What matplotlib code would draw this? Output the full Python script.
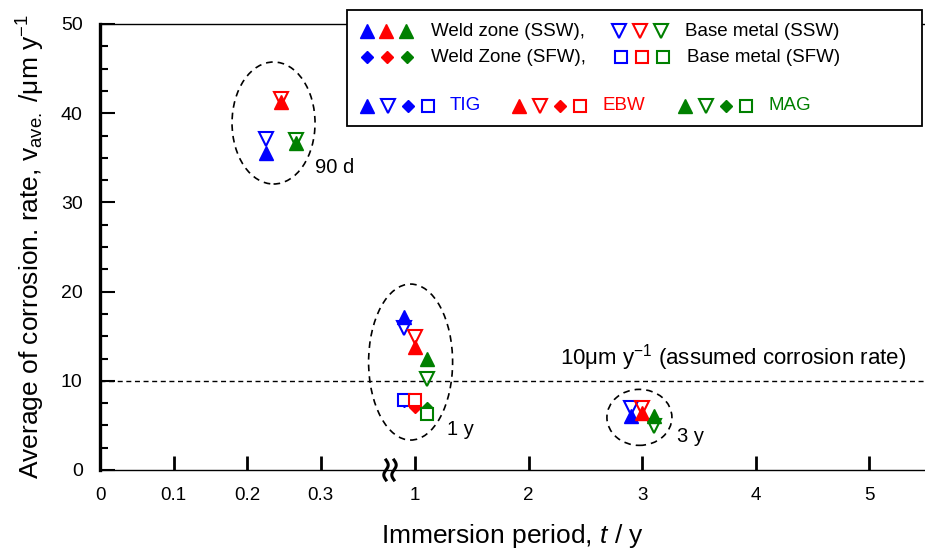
import numpy as np
import matplotlib
matplotlib.use('Agg')
import matplotlib.pyplot as plt
from matplotlib.patches import Ellipse, Rectangle
from matplotlib.transforms import Affine2D, ScaledTranslation
from matplotlib.lines import Line2D
from matplotlib.ticker import FixedLocator, NullLocator, MultipleLocator

plt.rcParams['font.family'] = ['Liberation Sans', 'DejaVu Sans']
plt.rcParams['mathtext.fontset'] = 'custom'
plt.rcParams['mathtext.rm'] = 'Liberation Sans'
plt.rcParams['mathtext.it'] = 'Liberation Sans:italic'
plt.rcParams['mathtext.bf'] = 'Liberation Sans:bold'

# ---------------- data ----------------
methods = ['TIG', 'EBW', 'MAG']
method_colors = ['#0000FF', '#FF0000', '#008000']

# immersion periods (slightly offset per method for visibility): 90 d, 1 y, 3 y
x_tig = [0.226, 0.9, 2.9]
x_ebw = [0.246, 1.0, 3.0]
x_mag = [0.267, 1.1, 3.1]

# Weld zone (SSW) - filled up triangles
weld_ssw_tig = [35.5, 17.1, 6.1]
weld_ssw_ebw = [41.3, 13.8, 6.4]
weld_ssw_mag = [36.7, 12.4, 6.0]

# Base metal (SSW) - open down triangles
base_ssw_tig = [37.1, 15.9, 6.9]
base_ssw_ebw = [41.6, 14.9, 7.0]
base_ssw_mag = [37.0, 10.2, 4.9]

# SFW only at 1 y
x_sfw = [0.9, 1.0, 1.1]
weld_sfw = [7.7, 7.1, 6.9]   # filled diamonds (TIG, EBW, MAG)
base_sfw = [7.85, 7.9, 6.3]  # open squares (TIG, EBW, MAG)

# groups (ellipses) and labels
group_labels = ['90 d', '1 y', '3 y']
group_cx = [0.236, 0.96, 2.975]
group_cy = [38.9, 12.1, 5.9]
label_x = [0.293, 1.28, 3.31]
label_y = [33.9, 4.5, 3.7]

assumed_rate = 10

xtick_vals = [0, 0.1, 0.2, 0.3, 1, 2, 3, 4, 5]
xtick_labels = ['0', '0.1', '0.2', '0.3', '1', '2', '3', '4', '5']

# ---------------- broken x scale ----------------
SCALE_L = 735 / 113.5
C_R = 315 / 113.5 - 1
XB_L, XB_R = 0.38, 0.8
UB_L, UB_R = SCALE_L * XB_L, XB_R + C_R


def fwd(x):
    x = np.asarray(x, float)
    return np.where(x <= XB_L, x * SCALE_L,
                    np.where(x >= XB_R, x + C_R,
                             UB_L + (x - XB_L) * (UB_R - UB_L) / (XB_R - XB_L)))


def inv(u):
    u = np.asarray(u, float)
    return np.where(u <= UB_L, u / SCALE_L,
                    np.where(u >= UB_R, u - C_R,
                             XB_L + (u - UB_L) * (XB_R - XB_L) / (UB_R - UB_L)))


W, H = 925, 550
fig = plt.figure(figsize=(W / 100, H / 100), dpi=100)
ax = fig.add_axes([100 / W, 80 / H, 825 / W, 446 / H])
ax.set_xscale('function', functions=(fwd, inv))
ax.set_xlim(0, 5.49)
ax.set_ylim(0, 50)

ax.xaxis.set_major_locator(FixedLocator(xtick_vals))
ax.set_xticklabels(xtick_labels)
ax.xaxis.set_minor_locator(NullLocator())
ax.yaxis.set_major_locator(MultipleLocator(10))
ax.yaxis.set_minor_locator(MultipleLocator(2.5))

ax.tick_params(axis='x', which='major', direction='in', length=10, width=2,
               labelsize=13.5, pad=12)
ax.tick_params(axis='y', which='major', direction='in', length=10.8, width=1.5,
               labelsize=14, pad=12.5)
ax.tick_params(axis='y', which='minor', direction='in', length=5.8, width=1.5)

ax.spines['right'].set_visible(False)
ax.spines['left'].set_linewidth(2.4)
ax.spines['bottom'].set_linewidth(1.0)
ax.spines['top'].set_linewidth(1.0)

ax.set_xlabel(r'Immersion period, $t$ / y', fontsize=19, labelpad=13)
ax.set_ylabel(r'Average of corrosion. rate, v$_{\rm ave.}$ /μm y$^{-1}$',
              fontsize=19, labelpad=10)

# assumed corrosion rate line
ax.axhline(assumed_rate, color='k', lw=1.0, ls=(0, (3.6, 2.6)), zorder=1)
ax.text(5.32, assumed_rate + 2.6, r'10μm y$^{-1}$ (assumed corrosion rate)',
        fontsize=16, ha='right', va='center')

# markers
xs = [x_tig, x_ebw, x_mag]
weld_ssw = [weld_ssw_tig, weld_ssw_ebw, weld_ssw_mag]
base_ssw = [base_ssw_tig, base_ssw_ebw, base_ssw_mag]
TRI_MS = 9.4
for i, c in enumerate(method_colors):
    ax.plot(xs[i], base_ssw[i], ls='none', marker='v', ms=TRI_MS, mfc='none',
            mec=c, mew=1.5, zorder=3)
for i, c in enumerate(method_colors):
    ax.plot(xs[i], weld_ssw[i], ls='none', marker='^', ms=TRI_MS, mfc=c,
            mec=c, mew=1.0, zorder=4)
for i, c in enumerate(method_colors):
    ax.plot([x_sfw[i]], [weld_sfw[i]], ls='none', marker='D', ms=6.6, mfc=c,
            mec=c, mew=1.0, zorder=5)
    ax.plot([x_sfw[i]], [base_sfw[i]], ls='none', marker='s', ms=8.3, mfc='white',
            mec=c, mew=1.5, zorder=6)

# ellipses (sizes in pixels, centred on data)
ell_w_px = [83, 84, 65]
ell_h_px = [122, 156, 56]
for cx, cy, w, h in zip(group_cx, group_cy, ell_w_px, ell_h_px):
    tr = Affine2D() + ScaledTranslation(cx, cy, ax.transData)
    e = Ellipse((0, 0), w, h, transform=tr, fill=False, ec='k', lw=1.2,
                ls=(0, (4, 3)), zorder=2, clip_on=False)
    ax.add_artist(e)
for lab, lx, ly in zip(group_labels, label_x, label_y):
    ax.text(lx, ly, lab, fontsize=14.5, ha='left', va='center')

# axis break mark
t = np.linspace(-1, 1, 60)
for dx in (-4, 4):
    tr = Affine2D().translate(dx, 0) + ScaledTranslation(290 / 825, 0, ax.transAxes)
    ax.plot(2.2 * np.sin(np.pi * t), 10 * t, color='k', lw=2.2, transform=tr,
            clip_on=False, zorder=7)

# ---------------- legend (pixel layout, top-left origin) ----------------
px = Affine2D().scale(1 / W, -1 / H).translate(0, 1) + fig.transFigure
box = Rectangle((347, 10), 575, 116, transform=px, fc='white', ec='k', lw=1.3,
                zorder=10)
fig.add_artist(box)


def lmark(x, y, marker, c, filled, ms):
    ln = Line2D([x], [y], transform=px, ls='none', marker=marker, ms=ms,
                mfc=(c if filled else 'white'), mec=c,
                mew=(1.0 if filled else 1.5), zorder=11)
    fig.add_artist(ln)


def ltext(x, y, s, c='k'):
    fig.text(x / W, 1 - y / H, s, fontsize=13.5, color=c, ha='left',
             va='center', zorder=11)


r1, r2, r3 = 31, 57, 106
for c, x in zip(method_colors, [367, 386, 406]):
    lmark(x, r1, '^', c, True, TRI_MS)
ltext(431, r1, 'Weld zone (SSW),')
for c, x in zip(method_colors, [619, 640, 661]):
    lmark(x, r1, 'v', c, False, TRI_MS)
ltext(685, r1, 'Base metal (SSW)')
for c, x in zip(method_colors, [367, 387, 407]):
    lmark(x, r2, 'D', c, True, 6.6)
ltext(431, r2, 'Weld Zone (SFW),')
for c, x in zip(method_colors, [621, 642, 663]):
    lmark(x, r2, 's', c, False, 8.3)
ltext(687, r2, 'Base metal (SFW)')

row3_start = [367, 519, 685]
for m, c, x0 in zip(methods, method_colors, row3_start):
    lmark(x0, r3, '^', c, True, TRI_MS)
    lmark(x0 + 21, r3, 'v', c, False, TRI_MS)
    lmark(x0 + 41, r3, 'D', c, True, 6.6)
    lmark(x0 + 61, r3, 's', c, False, 8.3)
    ltext(x0 + 83, r3, m, c)

fig.savefig('out.png', dpi=100)
